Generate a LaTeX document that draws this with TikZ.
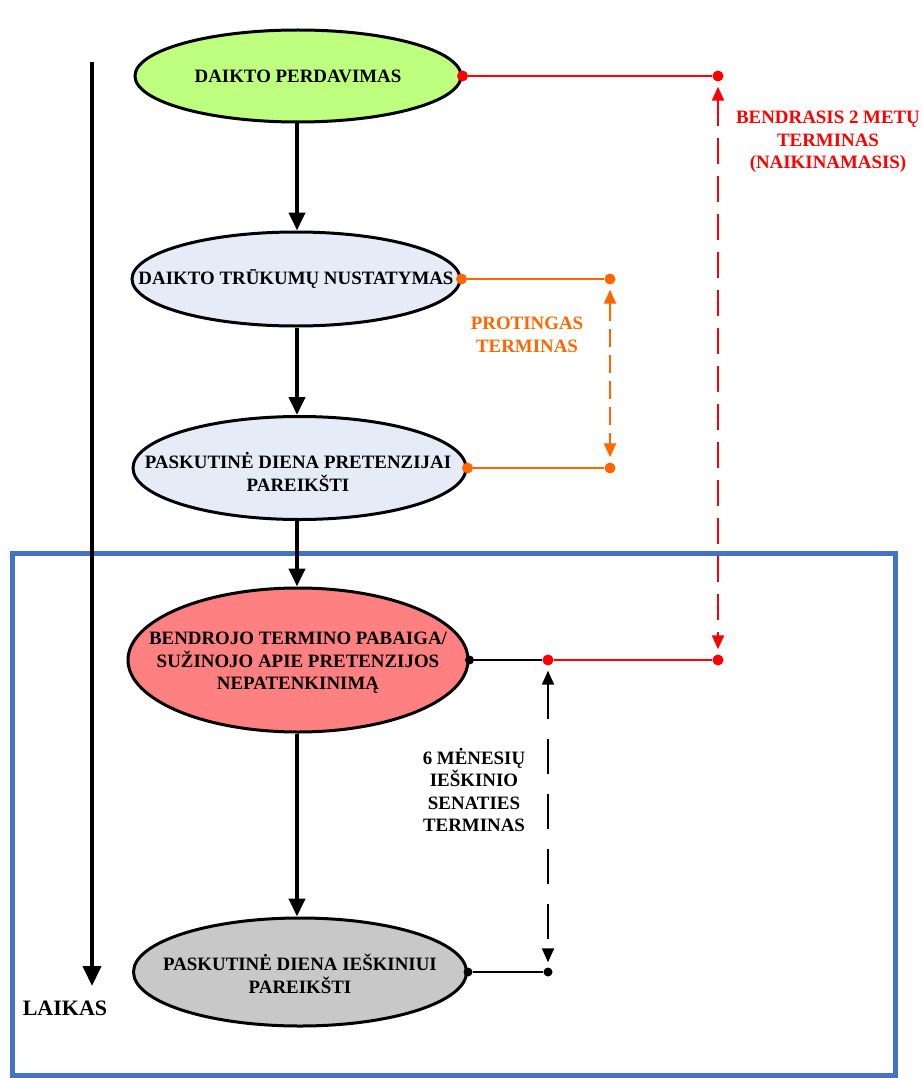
\documentclass[tikz,border=0pt]{standalone}
\usepackage{fontspec}
\setmainfont{Liberation Serif}
\usetikzlibrary{shapes.geometric,arrows.meta}
\definecolor{boxblue}{RGB}{68,114,196}
\definecolor{termred}{RGB}{255,0,0}
\definecolor{termorange}{RGB}{255,102,0}
\definecolor{fillgreen}{RGB}{191,255,128}
\definecolor{fillpale}{RGB}{230,236,247}
\definecolor{fillred}{RGB}{255,128,128}
\definecolor{fillgray}{RGB}{200,200,200}
\begin{document}
\begin{tikzpicture}[x=1pt,y=-1pt,
  stage/.style={ellipse, draw=black, line width=3pt, inner sep=0pt},
  stagetext/.style={align=center, inner sep=0pt, font=\bfseries\fontsize{18.9}{22.5}\selectfont},
  termtext/.style={align=center, inner sep=0pt, font=\bfseries\fontsize{18.9}{22.5}\selectfont},
  flow/.style={line width=4pt, -{Triangle[length=18pt,width=16pt]}},
  dot/.style={circle, fill, inner sep=0pt, minimum size=11pt},
  smalldot/.style={circle, fill, inner sep=0pt, minimum size=9pt},
  link/.style={line width=2pt},
  span/.style={line width=2pt, {Triangle[length=14pt,width=12pt]}-{Triangle[length=14pt,width=12pt]}, shorten <=5pt, shorten >=5pt}
]
\useasboundingbox (0,0) rectangle (922,1078);

% frame around the claim period
\draw[boxblue, line width=5pt] (12,553) rectangle (895,1075);

% stages
\node[stage, fill=fillgreen, minimum width=326pt, minimum height=92pt] (e1) at (298,76) {};
\node[stage, fill=fillpale, minimum width=328pt, minimum height=94pt] (e2) at (296,279) {};
\node[stage, fill=fillpale, minimum width=333pt, minimum height=103pt] (e3) at (299.5,468) {};
\node[stage, fill=fillred, minimum width=340pt, minimum height=144pt] (e4) at (298,660) {};
\node[stage, fill=fillgray, minimum width=333pt, minimum height=108pt] (e5) at (300,972) {};

\node[stagetext] (t1) at (298,76) {DAIKTO PERDAVIMAS};
\node[stagetext] (t2) at (296,279) {DAIKTO TRŪKUMŲ NUSTATYMAS};
\node[stagetext] (t3) at (298,472) {PASKUTINĖ DIENA PRETENZIJAI\\PAREIKŠTI};
\node[stagetext] (t4) at (298,663) {BENDROJO TERMINO PABAIGA/\\SUŽINOJO APIE PRETENZIJOS\\NEPATENKINIMĄ};
\node[stagetext] (t5) at (300,974) {PASKUTINĖ DIENA IEŠKINIUI\\PAREIKŠTI};

% sequence arrows, kept vertical on the central axis
\draw[flow] (297,0 |- e1.south) -- (297,0 |- e2.north);
\draw[flow] (297,0 |- e2.south) -- (297,0 |- e3.north);
\draw[flow] (297,0 |- e3.south) -- (297,0 |- e4.north);
\draw[flow] (297,0 |- e4.south) -- (297,0 |- e5.north);

% time axis
\coordinate (ttop) at (92,62);
\coordinate (tend) at (92,986);
\draw[line width=4pt, -{Triangle[length=20pt,width=18pt]}] (ttop) -- (tend);
\node[font=\bfseries\fontsize{22}{26}\selectfont, inner sep=0pt] (laikas) at (65,1008) {LAIKAS};

% general 2-year term (red)
\node[dot, termred] (r1) at (e1.east) {};
\node[dot, termred] (r2) at (718,76) {};
\node[dot, termred] (r3) at (718,660) {};
\node[dot, termred] (r4) at (548,660) {};
\draw[link, termred] (r1) -- (r2);
\draw[link, termred] (r4) -- (r3);
\draw[span, termred, dash pattern=on 26pt off 12pt] (r2) -- (r3);
\node[termtext, text=termred] (rt) at (828,142) {BENDRASIS 2 METŲ\\TERMINAS\\(NAIKINAMASIS)};

% reasonable term (orange)
\node[dot, termorange] (o1) at (e2.east) {};
\node[dot, termorange] (o2) at (610,279) {};
\node[dot, termorange] (o3) at (610,468) {};
\node[dot, termorange] (o4) at (e3.east) {};
\draw[link, termorange] (o1) -- (o2);
\draw[link, termorange] (o4) -- (o3);
\draw[span, termorange, dash pattern=on 18pt off 8pt] (o2) -- (o3);
\node[termtext, text=termorange] (ot) at (527,335) {PROTINGAS\\TERMINAS};

% 6-month limitation period (black)
\node[smalldot] (b1) at (e4.east) {};
\node[smalldot] (b2) at (e5.east) {};
\node[smalldot] (b3) at (548,972) {};
\draw[link] (b1) -- (r4);
\draw[link] (b2) -- (b3);
\draw[span, dash pattern=on 35pt off 20pt] (r4) -- (b3);
\node[termtext] (bt) at (474,790) {6 MĖNESIŲ\\IEŠKINIO\\SENATIES\\TERMINAS};
\end{tikzpicture}
\end{document}
